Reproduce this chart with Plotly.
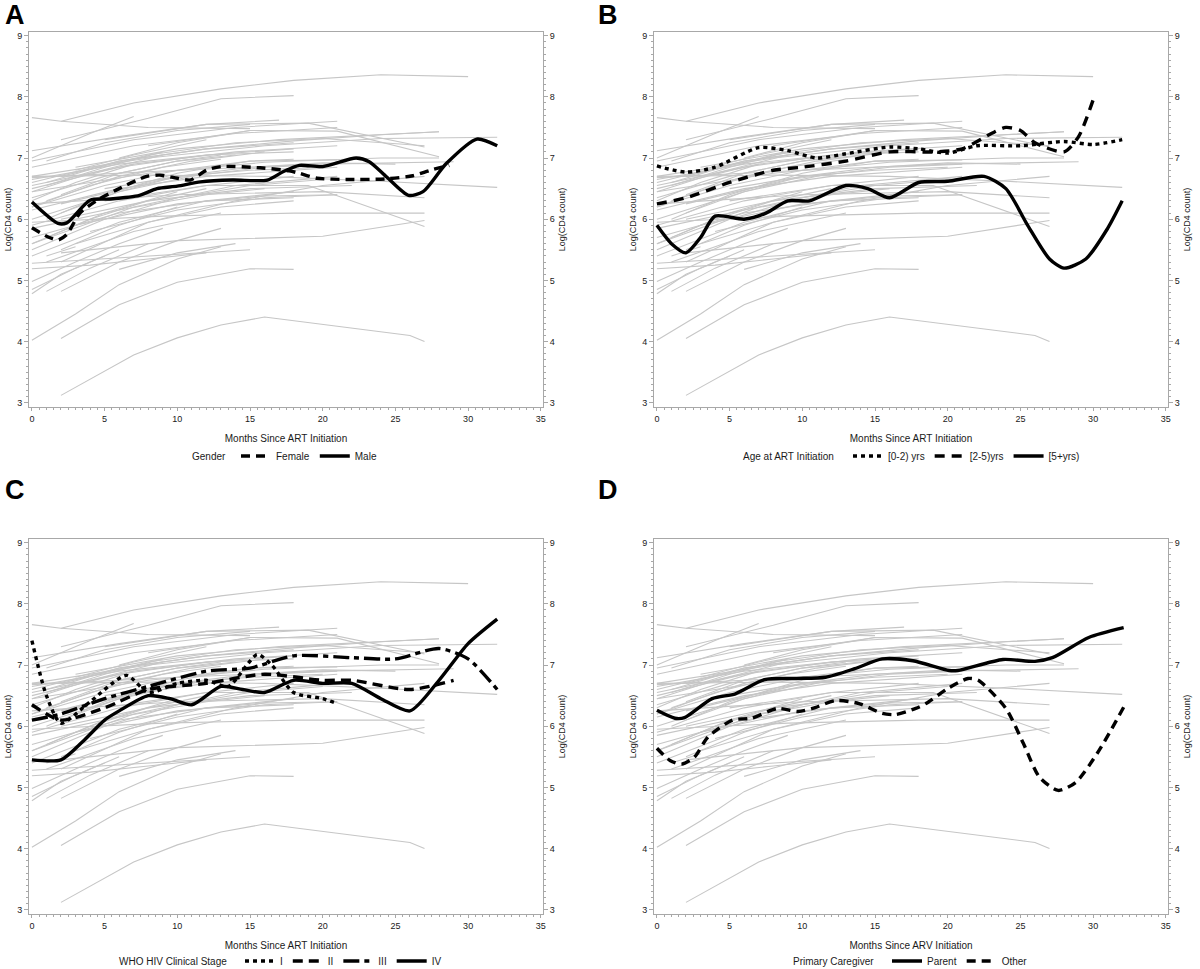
import plotly.graph_objects as go

# ---------------- gray individual trajectories (same in every panel) ----------------
TRAJ_MONTHS = [
    [2, 7, 13, 18, 24, 30], [2, 8, 13, 18], [0, 2, 8, 15], [0, 4, 7], [0, 6, 12, 17],
    [1, 5, 10, 15], [0, 7, 14, 21], [5, 12, 19, 27], [8, 15, 21, 28], [0, 6, 12, 18, 24, 28],
    [0, 8, 16, 24, 32], [2, 8, 14, 20, 27], [0, 10, 20, 29], [0, 8, 16, 24, 32], [0, 6, 12, 18],
    [1, 6, 11, 16], [0, 5, 10, 14], [2, 6, 10, 13], [0, 4, 9, 13], [1, 5, 10, 15, 21],
    [5, 12, 19, 27], [0, 6, 12, 18], [3, 10, 16, 21], [0, 6, 12, 18], [0, 9, 18, 27],
    [2, 10, 20, 27], [0, 5, 10, 15], [0, 4, 8, 12], [0, 3, 6, 9], [0, 3, 6],
    [0, 2, 5], [1, 4, 8], [1, 3], [6, 10, 14], [2, 6, 10, 13],
    [2, 7, 10, 13, 16, 26, 27], [0, 3, 6, 10, 13], [2, 6, 10, 15, 18], [0, 6, 12, 18], [0, 5, 10, 15, 20],
    [2, 8, 14, 20, 27], [0, 7, 14, 21], [0, 4, 8, 12], [1, 5, 10], [0, 6, 12],
    [0, 5, 10, 15, 18], [2, 6, 10, 15, 20, 25], [0, 8, 16, 24, 28], [3, 10, 17, 28], [0, 7, 14, 21],
    [6, 10, 15], [3, 7, 12], [0, 4, 9], [1, 5, 9], [0, 3, 7],
    [5, 10, 15, 20], [0, 10, 20, 27], [2, 8, 15, 22], [4, 10, 16, 21], [0, 6, 12, 18],
    [0, 6, 12, 16], [2, 6, 10], [1, 7, 13], [3, 8, 13, 18],
    [0, 7, 14, 21], [1, 6, 12, 18], [0, 6, 12, 21], [2, 9, 16, 21],
]
TRAJ_VALUES = [
    [7.6, 7.9, 8.13, 8.27, 8.36, 8.33], [7.3, 7.65, 7.97, 8.02], [7.66, 7.6, 7.5, 7.48], [7.0, 7.4, 7.68], [7.12, 7.35, 7.55, 7.62],
    [6.95, 7.25, 7.45, 7.55], [6.95, 7.3, 7.5, 7.6], [7.3, 7.55, 7.57, 7.18], [7.2, 7.45, 7.44, 7.02], [6.6, 6.95, 7.15, 7.28, 7.38, 7.43],
    [6.7, 7.0, 7.2, 7.32, 7.34], [6.7, 7.05, 7.25, 7.32, 7.2], [6.68, 6.8, 6.9, 6.94], [6.7, 6.72, 6.7, 6.62, 6.52], [6.5, 6.85, 7.05, 7.15],
    [6.3, 6.7, 6.95, 7.1], [6.35, 6.7, 6.95, 7.05], [6.4, 6.75, 6.95, 7.05], [6.2, 6.55, 6.85, 6.98], [6.0, 6.4, 6.75, 6.95, 6.97],
    [6.3, 6.55, 6.55, 5.88], [5.9, 6.3, 6.55, 6.7], [5.9, 6.25, 6.38, 6.4], [5.7, 6.1, 6.3, 6.35], [5.95, 6.05, 6.1, 6.1],
    [5.45, 5.65, 5.72, 5.98], [5.28, 5.35, 5.42, 5.5], [5.19, 5.25, 5.35, 5.45], [4.98, 5.3, 5.6, 5.85], [4.85, 5.2, 5.5],
    [4.78, 5.1, 5.4], [4.82, 5.2, 5.6], [5.4, 5.55], [5.18, 5.45, 5.6], [4.82, 5.3, 5.65, 5.85],
    [3.12, 3.78, 4.06, 4.27, 4.4, 4.1, 4.0], [4.02, 4.45, 4.93, 5.35, 5.55], [4.05, 4.6, 4.97, 5.19, 5.18], [5.4, 5.95, 6.3, 6.45], [5.5, 6.0, 6.35, 6.55, 6.65],
    [5.3, 5.95, 6.3, 6.55, 6.7], [5.6, 6.2, 6.55, 6.7], [5.6, 6.0, 6.3, 6.5], [5.7, 6.1, 6.45], [6.0, 6.45, 6.75],
    [6.2, 6.55, 6.8, 6.95, 6.98], [6.1, 6.45, 6.7, 6.85, 6.92, 6.9], [6.45, 6.75, 6.93, 7.0, 7.0], [6.85, 7.15, 7.3, 7.43], [6.85, 7.2, 7.4, 7.5],
    [7.0, 7.25, 7.45], [6.8, 7.05, 7.3], [6.45, 6.75, 7.05], [6.55, 6.85, 7.1], [6.3, 6.6, 6.9],
    [6.5, 6.7, 6.8, 6.85], [6.25, 6.4, 6.45, 6.35], [6.0, 6.3, 6.5, 6.55], [5.8, 6.15, 6.35, 6.4], [6.65, 6.9, 7.05, 7.1],
    [5.85, 6.15, 6.4, 6.5], [5.5, 5.9, 6.2], [5.3, 5.8, 6.1], [5.6, 5.95, 6.2, 6.3],
    [6.55, 6.9, 7.1, 7.2], [6.6, 6.95, 7.15, 7.25], [6.15, 6.5, 6.7, 6.85], [6.25, 6.65, 6.85, 6.9],
]

# ---------------- Panel A: Gender ----------------
FEMALE_M = [0, 1.2, 1.8, 2.4, 3.3, 4.5, 6, 7.9, 8.8, 10, 10.9, 12, 13, 15.7, 17.7, 18.4, 19.6, 21.6, 24.4, 26.2, 27.4, 28.7]
FEMALE_V = [5.86, 5.7, 5.66, 5.75, 6.1, 6.31, 6.5, 6.7, 6.72, 6.67, 6.64, 6.8, 6.86, 6.84, 6.79, 6.75, 6.67, 6.65, 6.66, 6.71, 6.8, 6.88]
MALE_M = [0, 1.8, 2.4, 4, 5.4, 7.4, 8.6, 10, 11.6, 13.8, 16.2, 17.3, 18.4, 20, 22.3, 23.2, 24.4, 25.9, 26.9, 28.5, 30.6, 32]
MALE_V = [6.28, 5.93, 5.94, 6.31, 6.33, 6.39, 6.5, 6.54, 6.61, 6.64, 6.64, 6.78, 6.88, 6.86, 7.0, 6.94, 6.69, 6.39, 6.45, 6.91, 7.31, 7.2]

# ---------------- Panel B: Age at ART initiation ----------------
AGE02_M = [0, 2, 4, 7, 9, 11, 13, 16, 18, 20, 22, 25, 28, 30, 32]
AGE02_V = [6.87, 6.77, 6.85, 7.17, 7.12, 7.0, 7.07, 7.18, 7.15, 7.08, 7.2, 7.2, 7.27, 7.22, 7.3]
AGE25_M = [0, 2, 5, 8, 10, 13, 16, 19, 21, 23, 24, 25, 26, 28, 29, 30]
AGE25_V = [6.25, 6.35, 6.6, 6.8, 6.85, 6.95, 7.1, 7.1, 7.15, 7.4, 7.5, 7.45, 7.25, 7.1, 7.35, 7.95]
AGE5_M = [0, 1, 2, 3, 4, 6, 7.5, 9, 10.5, 13, 14.5, 16, 18, 20, 22.5, 24, 25.5, 27, 28, 29.5, 31, 32]
AGE5_V = [5.9, 5.6, 5.45, 5.7, 6.05, 6.0, 6.1, 6.3, 6.3, 6.55, 6.5, 6.35, 6.6, 6.62, 6.7, 6.5, 5.9, 5.35, 5.2, 5.35, 5.85, 6.3]

# ---------------- Panel C: WHO clinical stage ----------------
S1_M = [0, 1, 2, 4, 6.5, 8, 10, 12, 13.5, 15.5, 16.5, 18, 20, 21]
S1_V = [7.4, 6.5, 6.05, 6.4, 6.83, 6.55, 6.7, 6.75, 6.65, 7.17, 7.0, 6.55, 6.45, 6.37]
S2_M = [0, 2, 5, 8, 12, 16, 20, 22, 26, 29]
S2_V = [6.35, 6.1, 6.3, 6.6, 6.7, 6.85, 6.75, 6.75, 6.6, 6.75]
S3_M = [0, 2, 5, 8, 12, 15, 18, 22, 25, 28, 30, 32]
S3_V = [6.1, 6.2, 6.45, 6.65, 6.9, 6.95, 7.15, 7.12, 7.1, 7.27, 7.1, 6.6]
S4_M = [0, 2, 3.5, 5, 6, 8, 9.5, 11, 13, 14.5, 16, 18, 20, 22, 24, 26, 28, 30, 32]
S4_V = [5.45, 5.45, 5.75, 6.1, 6.25, 6.5, 6.45, 6.35, 6.65, 6.6, 6.55, 6.75, 6.7, 6.7, 6.45, 6.25, 6.75, 7.35, 7.75]

# ---------------- Panel D: Primary caregiver ----------------
PARENT_M = [0, 1.24, 1.9, 3.8, 5.4, 7.4, 9.5, 11.6, 13.6, 15.5, 17.6, 20.1, 20.7, 23.8, 26, 27.2, 29.7, 32.1]
PARENT_V = [6.26, 6.13, 6.14, 6.45, 6.53, 6.76, 6.78, 6.8, 6.94, 7.1, 7.07, 6.91, 6.91, 7.09, 7.06, 7.12, 7.45, 7.61]
OTHER_M = [0, 0.9, 1.7, 2.6, 3.5, 5.2, 6.5, 8.3, 9.7, 10.7, 12.3, 13.9, 15.5, 16.4, 17.8, 18.5, 20.1, 21.4, 22.1, 24,
           25.2, 26.3, 27.6, 28.8, 30.4, 32.1]
OTHER_V = [5.64, 5.44, 5.38, 5.5, 5.82, 6.1, 6.13, 6.29, 6.24, 6.29, 6.42, 6.37, 6.21, 6.19, 6.29, 6.37, 6.63, 6.78, 6.75, 6.29,
           5.72, 5.17, 4.95, 5.08, 5.6, 6.31]

X_TICKS = [0, 5, 10, 15, 20, 25, 30, 35]
Y_TICKS = [3, 4, 5, 6, 7, 8, 9]
PANEL_LETTERS = ["A", "B", "C", "D"]
X_TITLES = ["Months Since ART Initiation", "Months Since ART Initiation",
            "Months Since ART Initiation", "Months Since ARV Initiation"]
LEGEND_TITLES = ["Gender", "Age at ART Initiation", "WHO HIV Clinical Stage", "Primary Caregiver"]

W, H = 1200, 969
FONT = "Liberation Sans"

# pixel geometry of the plot frames (left, right, top, bottom)
FRAMES = [(29, 543, 32, 407), (654, 1168, 32, 407), (29, 543, 539, 914), (654, 1168, 539, 914)]
# legend: (title right edge, first symbol start, y centre)
LEGEND_POS = [(228, 242, 456), (836, 854, 456), (229, 246, 961), (876, 893, 961)]
LETTER_POS = [(15, 15), (608, 15), (15, 490), (608, 490)]
LEG_PAD = 6

fig = go.Figure()

gx, gy = [], []
for ms, vs in zip(TRAJ_MONTHS, TRAJ_VALUES):
    gx += list(ms) + [None]
    gy += list(vs) + [None]

for p in range(4):
    ax = "" if p == 0 else str(p + 1)
    fig.add_trace(go.Scatter(x=gx, y=gy, mode="lines", xaxis="x" + ax, yaxis="y" + ax,
                             line=dict(color="#c6c6c6", width=1.1), showlegend=False,
                             hoverinfo="skip"))

BLK = "#000000"
series = [
    (0, "Female", FEMALE_M, FEMALE_V, "9px,6px"),
    (0, "Male", MALE_M, MALE_V, "solid"),
    (1, "[0-2) yrs", AGE02_M, AGE02_V, "4px,4px"),
    (1, "[2-5)yrs", AGE25_M, AGE25_V, "10px,7px"),
    (1, "[5+yrs)", AGE5_M, AGE5_V, "solid"),
    (2, "I", S1_M, S1_V, "4px,4px"),
    (2, "II", S2_M, S2_V, "10px,6px"),
    (2, "III", S3_M, S3_V, "16px,5px,5px,5px"),
    (2, "IV", S4_M, S4_V, "solid"),
    (3, "Parent", PARENT_M, PARENT_V, "solid"),
    (3, "Other", OTHER_M, OTHER_V, "9px,6px"),
]
for p, name, ms, vs, dash in series:
    ax = "" if p == 0 else str(p + 1)
    fig.add_trace(go.Scatter(x=ms, y=vs, mode="lines", name=name,
                             xaxis="x" + ax, yaxis="y" + ax,
                             line=dict(color=BLK, width=3.4, dash=dash, shape="spline", smoothing=0.7),
                             legend="legend" if p == 0 else "legend" + str(p + 1)))

layout = dict(width=W, height=H, margin=dict(l=0, r=0, t=0, b=0, autoexpand=False),
              paper_bgcolor="white", plot_bgcolor="white",
              font=dict(family=FONT, color="#1a1a1a"), showlegend=True)

XR = [-0.2, 35.15]
YR = [2.93, 9.06]
axis_color = "#a8a8a8"
tickfont = dict(family=FONT, size=9, color="#1a1a1a")
annotations = []
for p in range(4):
    l, r, t, b = FRAMES[p]
    sfx = "" if p == 0 else str(p + 1)
    xdom = [l / W, r / W]
    ydom = [1 - b / H, 1 - t / H]
    layout["xaxis" + sfx] = dict(
        domain=xdom, range=XR, anchor="y" + sfx, tickvals=X_TICKS, showgrid=False, zeroline=False,
        showline=True, linecolor=axis_color, linewidth=1, mirror=True,
        ticks="outside", ticklen=3, tickcolor=axis_color, tickfont=tickfont, ticklabelstandoff=0,
        minor=dict(dtick=0.5, ticklen=2, tickcolor=axis_color, ticks="outside"),
        title=dict(text=X_TITLES[p], font=dict(family=FONT, size=10, color="#1a1a1a"), standoff=12),
        automargin=False)
    layout["yaxis" + sfx] = dict(
        domain=ydom, range=YR, anchor="x" + sfx, tickvals=Y_TICKS, showgrid=False, zeroline=False,
        showline=True, linecolor=axis_color, linewidth=1, mirror=True,
        ticks="outside", ticklen=4, tickcolor=axis_color, tickfont=tickfont,
        minor=dict(dtick=0.1, ticklen=2, tickcolor=axis_color, ticks="outside"),
        title=dict(text="Log(CD4 count)", font=dict(family=FONT, size=9, color="#1a1a1a"), standoff=4),
        automargin=False)
    rsfx = str(p + 5)
    layout["yaxis" + rsfx] = dict(
        overlaying="y" + sfx, side="right", anchor="x" + sfx, range=YR, tickvals=Y_TICKS,
        showgrid=False, zeroline=False, showline=True, linecolor=axis_color, linewidth=1,
        ticks="outside", ticklen=4, tickcolor=axis_color, tickfont=tickfont,
        minor=dict(dtick=0.1, ticklen=2, tickcolor=axis_color, ticks="outside"),
        title=dict(text="Log(CD4 count)", font=dict(family=FONT, size=9, color="#1a1a1a"), standoff=4),
        automargin=False)
    tr, sx, ly = LEGEND_POS[p]
    layout["legend" if p == 0 else "legend" + str(p + 1)] = dict(
        x=(sx - LEG_PAD) / W, y=1 - ly / H, xanchor="left", yanchor="middle", orientation="h",
        font=dict(family=FONT, size=10, color="#1a1a1a"), bgcolor="rgba(0,0,0,0)",
        itemwidth=30, tracegroupgap=0)
    annotations.append(dict(text=LEGEND_TITLES[p], x=tr / W, y=1 - ly / H, xref="paper", yref="paper",
                            showarrow=False, xanchor="right", yanchor="middle",
                            font=dict(family=FONT, size=10, color="#1a1a1a")))
    cx, cy = LETTER_POS[p]
    annotations.append(dict(text="<b>" + PANEL_LETTERS[p] + "</b>", x=cx / W, y=1 - cy / H,
                            xref="paper", yref="paper", showarrow=False, xanchor="center", yanchor="middle",
                            font=dict(family=FONT, size=27, color="black")))

# invisible traces so the right-hand axes are drawn
for p in range(4):
    sfx = "" if p == 0 else str(p + 1)
    fig.add_trace(go.Scatter(x=[None], y=[None], xaxis="x" + sfx, yaxis="y" + str(p + 5),
                             showlegend=False, hoverinfo="skip"))

layout["annotations"] = annotations
fig.update_layout(**layout)
fig.write_html("out.html", config={"displayModeBar": False},
               post_script="document.body.style.margin='0px';")
